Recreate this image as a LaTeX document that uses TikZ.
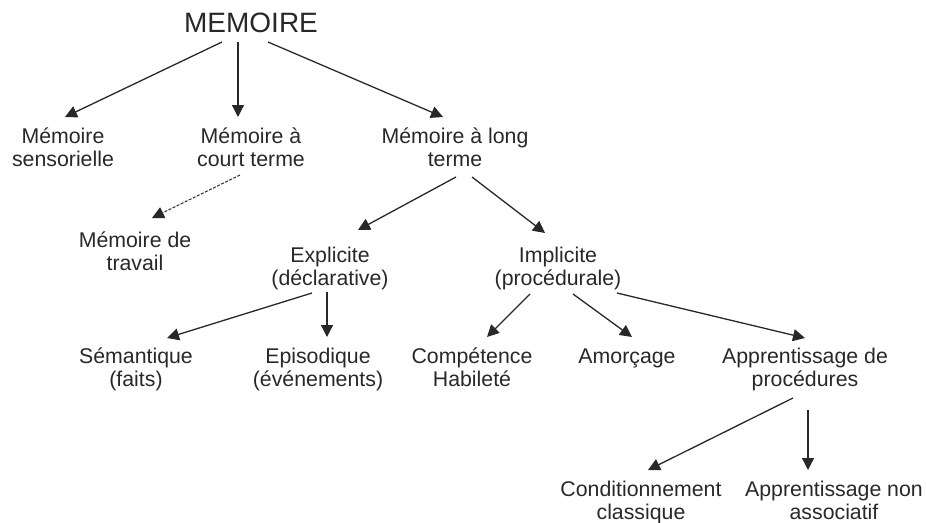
\documentclass[tikz,border=0pt]{standalone}
\usepackage{fontspec}
\setmainfont{Liberation Sans}
\usetikzlibrary{arrows.meta,calc}
\definecolor{ink}{RGB}{40,40,40}
\begin{document}
\begin{tikzpicture}[x=1pt,y=-1pt,
  lbl/.style={anchor=base,align=center,inner sep=0pt,text=ink,font=\fontsize{21.3}{23}\selectfont},
  arr/.style={draw=ink,line width=1.3pt,-{Triangle[length=12pt,width=12pt]}}]
\useasboundingbox (0,0) rectangle (926,522);
% anchor=base of a two-line node is the baseline of its second line
\node[lbl,font=\fontsize{28}{30}\selectfont] (mem) at (251,32) {MEMOIRE};
\node[lbl] (sens) at (63,166) {Mémoire\\sensorielle};
\node[lbl] (court) at (251,166) {Mémoire à\\court terme};
\node[lbl] (long) at (455,166) {Mémoire à long\\terme};
\node[lbl] (trav) at (135,270) {Mémoire de\\travail};
\node[lbl] (expl) at (330,285) {Explicite\\(déclarative)};
\node[lbl] (impl) at (558,285) {Implicite\\(procédurale)};
\node[lbl] (sem) at (136,386) {Sémantique\\(faits)};
\node[lbl] (epi) at (318,386) {Episodique\\(événements)};
\node[lbl] (comp) at (472,386) {Compétence\\Habileté};
\node[lbl] (amor) at (627,363) {Amorçage};
\node[lbl] (appr) at (805,386) {Apprentissage de\\procédures};
\node[lbl] (cond) at (641,519) {Conditionnement\\classique};
\node[lbl] (nonas) at (834,519) {Apprentissage non\\associatif};
% connectors
\draw[arr] ($(mem.base)+(-29,10)$) -- ($(sens.base)+(2,-49)$);
\draw[arr] ($(mem.base)+(-13,10)$) -- ($(court.base)+(-13,-49)$);
\draw[arr] ($(mem.base)+(17,10)$) -- ($(long.base)+(-12,-49)$);
\draw[arr,dash pattern=on 3pt off 1.5pt,line width=1pt] ($(court.base)+(-11,9)$) -- ($(trav.base)+(17,-52)$);
\draw[arr] ($(long.base)+(1,11)$) -- ($(expl.base)+(28,-55)$);
\draw[arr] ($(long.base)+(17,11)$) -- ($(impl.base)+(-13,-52)$);
\draw[arr] ($(expl.base)+(-18,8)$) -- ($(sem.base)+(31,-48)$);
\draw[arr] ($(expl.base)+(-3,7)$) -- ($(epi.base)+(9,-49)$);
\draw[arr] ($(impl.base)+(-28,9)$) -- ($(comp.base)+(15,-49)$);
\draw[arr] ($(impl.base)+(15,9)$) -- ($(amor.base)+(5,-26)$);
\draw[arr] ($(impl.base)+(59,8)$) -- ($(appr.base)+(0,-48)$);
\draw[arr] ($(appr.base)+(-12,12)$) -- ($(cond.base)+(7,-49)$);
\draw[arr] ($(appr.base)+(3,24)$) -- ($(nonas.base)+(-26,-49)$);
\end{tikzpicture}
\end{document}
